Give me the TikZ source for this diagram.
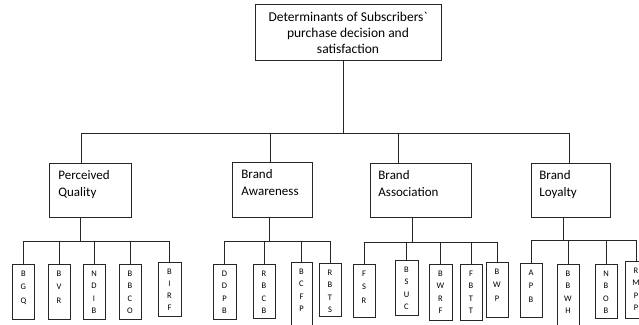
\documentclass[tikz,border=0pt]{standalone}
\usepackage{fontspec}
\setmainfont{Carlito}
\newcommand\stk[2][12.5pt]{\vtop{\baselineskip=#1\lineskiplimit=-20pt\halign{\hfil##\hfil\cr#2\crcr}}}
\newcommand\lft[3]{\vtop{\baselineskip=17pt\lineskiplimit=-20pt\hbox to #1{#2\hfil}\hbox{#3}}}
\begin{document}
\begin{tikzpicture}[x=1pt,y=-1pt,
  line width=0.8pt,
  link/.style={draw=black!85},
  topbox/.style={draw=black!85, text=black, inner sep=0pt, anchor=north, font=\fontsize{13.5}{16}\selectfont, text height=17pt},
  midbox/.style={draw=black!85, text=black, inner xsep=9pt, inner ysep=0pt, anchor=north west, font=\fontsize{13}{17}\selectfont, text height=16pt},
  smallbox/.style={draw=black!85, text=black, inner sep=0pt, anchor=north, font=\fontsize{8.5}{12.5}\selectfont, text height=12pt},
]
\useasboundingbox (0,0) rectangle (639,324);
\clip (0,0) rectangle (639,324);
\fill[white] (0,0) rectangle (639,324);

% top
\node[topbox, minimum width=186pt, text depth=39pt] (top) at (348,4)
  {\stk[16pt]{Determinants of Subscribers\textasciigrave\cr purchase decision and\cr satisfaction}};

% middle boxes
\node[midbox, text depth=38pt] (pq)  at (49,163)  {\lft{64pt}{Perceived}{Quality}};
\node[midbox, text depth=39pt] (ba)  at (232,162) {\lft{62pt}{Brand}{Awareness}};
\node[midbox, inner xsep=8pt, text depth=38pt] (bas) at (370,163) {\lft{85pt}{Brand}{Association}};
\node[midbox, inner xsep=8pt, text depth=38pt] (bl)  at (531,163) {\lft{63pt}{Brand}{Loyalty}};

% small boxes: Perceived Quality
\node[smallbox, minimum width=21.5pt, text depth=43pt] (bgq)  at (23.4,264) {\stk[13.5pt]{B\cr G\cr Q}};
\node[smallbox, minimum width=22pt, text depth=43pt]   (bvr)  at (59,264)   {\stk[13.5pt]{B\cr V\cr R}};
\node[smallbox, minimum width=22pt, text depth=43pt]   (ndib) at (94,264)   {\stk{N\cr D\cr I\cr B}};
\node[smallbox, minimum width=22pt, text depth=43pt]   (bbco) at (130,264)  {\stk{B\cr B\cr C\cr O}};
\node[smallbox, minimum width=23pt, text depth=42pt]   (birf) at (169.5,262) {\stk[12pt]{B\cr I\cr R\cr F}};
% Brand Awareness
\node[smallbox, minimum width=23pt, text depth=43pt]   (ddpb) at (224.5,264) {\stk{D\cr D\cr P\cr B}};
\node[smallbox, minimum width=22pt, text depth=42pt]   (rbcb) at (264,264)   {\stk{R\cr B\cr C\cr B}};
\node[smallbox, minimum width=21pt, text depth=58pt]   (bcfp) at (301.5,262) {\stk{B\cr C\cr F\cr P}};
\node[smallbox, minimum width=22pt, text depth=41pt]   (rbts) at (330,263)   {\stk{R\cr B\cr T\cr S}};
% Brand Association
\node[smallbox, minimum width=22pt, text depth=41pt]   (fsr)  at (364,264)   {\stk[13.5pt]{F\cr S\cr R}};
\node[smallbox, minimum width=23pt, text depth=43pt]   (bsuc) at (406.5,260) {\stk{B\cr S\cr U\cr C}};
\node[smallbox, minimum width=23pt, text depth=44pt]   (bwrf) at (440.5,264) {\stk{B\cr W\cr R\cr F}};
\node[smallbox, minimum width=22pt, text depth=44pt]   (fbtt) at (471,264)   {\stk{F\cr B\cr T\cr T}};
\node[smallbox, minimum width=22pt, text depth=43pt]   (bwp)  at (497,262)   {\stk[13.5pt]{B\cr W\cr P}};
% Brand Loyalty
\node[smallbox, minimum width=22pt, text depth=42pt]   (apb)  at (531,263)   {\stk[13.5pt]{A\cr P\cr B}};
\node[smallbox, minimum width=22pt, text depth=58pt]   (bbwh) at (568,264)   {\stk{B\cr B\cr W\cr H}};
\node[smallbox, minimum width=22pt, text depth=42pt]   (nobb) at (606,264)   {\stk{N\cr B\cr O\cr B}};
\node[smallbox, minimum width=22pt, text depth=45pt]   (rmpp) at (636,261)   {\stk{R\cr M\cr P\cr P}};

% connectors, top level
\coordinate (j0) at (343,133);
\coordinate (jpq) at (81,133);
\coordinate (jba) at (270,133);
\coordinate (jbas) at (398,133);
\coordinate (jbl) at (569,133);
\draw[link] (top.south -| j0) -- (j0);
\draw[link] (jpq) -- (jbl);
\draw[link] (jpq) -- (jpq |- pq.north);
\draw[link] (jba) -- (jba |- ba.north);
\draw[link] (jbas) -- (jbas |- bas.north);
\draw[link] (jbl) -- (jbl |- bl.north);

% Perceived Quality branch
\coordinate (spq) at (80,241);
\draw[link] (spq |- pq.south) -- (spq);
\draw[link] (bgq.north |- spq) -- (birf.north |- spq);
\foreach \n in {bgq,bvr,ndib,bbco,birf} \draw[link] (\n.north |- spq) -- (\n.north);

% Brand Awareness branch
\coordinate (sba) at (269,241);
\draw[link] (sba |- ba.south) -- (sba);
\draw[link] (ddpb.north |- sba) -- (rbts.north |- sba);
\foreach \n in {ddpb,rbcb,bcfp,rbts} \draw[link] (\n.north |- sba) -- (\n.north);

% Brand Association branch
\coordinate (sbas) at (412,242);
\draw[link] (sbas |- bas.south) -- (sbas);
\draw[link] (fsr.north |- sbas) -- (bwp.north |- sbas);
\foreach \n in {fsr,bsuc,bwrf,fbtt,bwp} \draw[link] (\n.north |- sbas) -- (\n.north);

% Brand Loyalty branch
\coordinate (sbl) at (563,240);
\draw[link] (sbl |- bl.south) -- (sbl);
\draw[link] (apb.north |- sbl) -- (rmpp.north |- sbl);
\foreach \n in {apb,bbwh,nobb,rmpp} \draw[link] (\n.north |- sbl) -- (\n.north);
\end{tikzpicture}
\end{document}
